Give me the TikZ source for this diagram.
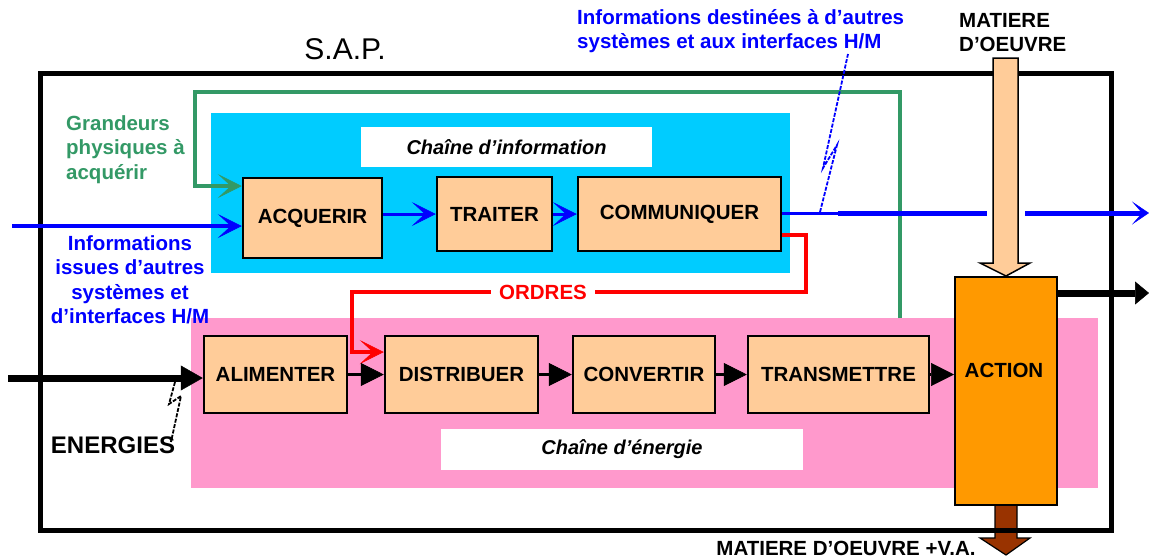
\documentclass[tikz,border=0pt]{standalone}
\usepackage{fontspec}
\setmainfont{Liberation Sans}
\usetikzlibrary{arrows.meta}
\definecolor{infocyan}{HTML}{00CCFF}
\definecolor{energypink}{HTML}{FF99CC}
\definecolor{peach}{HTML}{FFCC99}
\definecolor{actorange}{HTML}{FF9900}
\definecolor{brownva}{HTML}{993300}
\definecolor{gpgreen}{HTML}{339966}
\definecolor{infoblue}{HTML}{0000FF}
\definecolor{ordred}{HTML}{FF0000}
\tikzset{
  InfoTip/.tip={Stealth[length=24pt,width=24pt,inset=13pt,line width=0.5pt]},
  FlowTip/.tip={Triangle[length=23pt,width=23pt,line width=0.5pt]},
  txt/.style={font=\fontsize{20.5}{24.5}\selectfont\bfseries, inner sep=0pt},
  fnbox/.style={draw=black, line width=2.5pt, fill=peach, txt, inner sep=0pt},
  chainlbl/.style={fill=white, font=\fontsize{20}{24}\selectfont\bfseries\itshape, inner sep=0pt},
  infoflow/.style={draw=infoblue, line width=3.5pt},
  energyflow/.style={draw=black, line width=3pt, -FlowTip},
  bolt/.style={dash pattern=on 4pt off 1.5pt, line width=1.8pt},
}
\begin{document}
\begin{tikzpicture}[x=1pt,y=-1pt]
\useasboundingbox (0,0) rectangle (1149,558);

% output product arrow, below the system frame
\filldraw[fill=brownva, draw=black, line width=1.2pt]
  (995,505) -- (1017,505) -- (1017,538) -- (1030,538) -- (1006,555)
  -- (980,538) -- (995,538) -- cycle;

% system frame
\draw[line width=5pt] (40,73) rectangle (1111,530);
\node[font=\fontsize{30}{34}\selectfont, inner sep=0pt] (sap) at (345,49) {S.A.P.};

% the two chains
\fill[energypink] (191,318) rectangle (1098,488);
\fill[infocyan] (211,113) rectangle (790,273);
\node[chainlbl, minimum width=291pt, minimum height=40pt] (infolbl) at (506.5,147) {Chaîne d’information};
\node[chainlbl, minimum width=362pt, minimum height=41pt] (enerlbl) at (622,449.5) {Chaîne d’énergie};

% function boxes
\node[fnbox, minimum width=139pt, minimum height=80pt] (acq)   at (312.5,218) {ACQUERIR};
\node[fnbox, minimum width=115pt, minimum height=74pt] (trait) at (494.5,214) {TRAITER};
\node[fnbox, minimum width=203pt, minimum height=74pt] (comm)  at (679.5,214) {COMMUNIQUER};
\node[fnbox, minimum width=143pt, minimum height=77pt] (alim)  at (275.5,374.5) {ALIMENTER};
\node[fnbox, minimum width=153pt, minimum height=77pt] (dist)  at (461.5,374.5) {DISTRIBUER};
\node[fnbox, minimum width=142pt, minimum height=77pt] (conv)  at (644,374.5) {CONVERTIR};
\node[fnbox, minimum width=181pt, minimum height=77pt] (trans) at (838.5,374.5) {TRANSMETTRE};
\node[draw=black, line width=2pt, fill=actorange, minimum width=102pt, minimum height=228pt, inner sep=0pt] (action) at (1006,391) {};
\node[txt] (actlbl) at (1004,370) {ACTION};

% physical quantities loop
\coordinate (g0) at (900,318);
\coordinate (g1) at (900,92);
\coordinate (g2) at (195,92);
\coordinate (g3) at (195,186);
\draw[draw=gpgreen, line width=3.5pt, -InfoTip] (g0) -- (g1) -- (g2) -- (g3) -- (acq.west |- g3);

% information flow
\coordinate (iin) at (12,226);
\draw[infoflow, -InfoTip] (iin) -- (acq.west |- iin);
\draw[infoflow, line width=3pt, -InfoTip] (acq.east |- trait.west) -- (trait.west);
\draw[infoflow, line width=3pt, -InfoTip] (trait.east) -- (comm.west);
\coordinate (o1) at (838,213);
\coordinate (o2) at (987,213);
\coordinate (o3) at (1025,213);
\coordinate (o4) at (1149,213);
\draw[infoflow, line width=3pt] (comm.east |- o1) -- (o1);
\draw[infoflow, line width=5pt] (o1) -- (o2);
\draw[infoflow, line width=5pt, -{Stealth[length=17pt,width=23pt,inset=10pt,line width=0.5pt]}] (o3) -- (o4);

% wireless symbol towards other systems
\coordinate (b1) at (820,212);
\draw[infoblue, bolt] (b1) -- (837,145) -- (823,168) -- (848,54);

% orders
\coordinate (r1) at (806,235);
\coordinate (r2) at (806,292);
\coordinate (r3) at (352,292);
\coordinate (r4) at (352,352);
\draw[draw=ordred, line width=3.5pt, -InfoTip] (comm.east |- r1) -- (r1) -- (r2) -- (r3) -- (r4) -- (dist.west |- r4);
\node[txt, text=ordred, fill=white, inner xsep=8pt, inner ysep=3pt] (ordres) at (543,292) {ORDRES};

% energy flow
\coordinate (ein) at (8,378);
\draw[line width=7pt, -{Triangle[length=22pt,width=25pt,line width=0.5pt]}] (ein) -- (alim.west |- ein);
\draw[energyflow] (alim.east) -- (dist.west);
\draw[energyflow] (dist.east) -- (conv.west);
\draw[energyflow] (conv.east) -- (trans.west);
\draw[energyflow] (trans.east) -- (trans.east -| action.west);
\coordinate (b2) at (175,382);
\draw[black, bolt] (b2) -- (169,404) -- (181,396) -- (171,442);

% output of the action
\coordinate (aout) at (1149,293);
\draw[line width=7pt, -{Triangle[length=14pt,width=23pt,line width=0.5pt]}] (action.east |- aout) -- (aout);

% incoming work material
\filldraw[fill=peach, draw=black, line width=1.5pt]
  (993,58) -- (1018,58) -- (1018,263) -- (1030,263) -- (action.north)
  -- (980,263) -- (993,263) -- cycle;

% labels
\node[txt, text=infoblue, align=left, anchor=north west] (infoout) at (577,9)
  {Informations destinées à d’autres\\systèmes et aux interfaces H/M};
\node[txt, align=left, anchor=north west] (mo) at (959,13) {MATIERE\\D'OEUVRE};
\node[txt, text=gpgreen, align=left, anchor=north west] (gp) at (66,115)
  {Grandeurs\\physiques à\\acquérir};
\node[txt, text=infoblue, align=center, anchor=north] (infoin) at (130,235)
  {Informations\\issues d’autres\\systèmes et\\d’interfaces H/M};
\node[txt, font=\fontsize{24}{28}\selectfont\bfseries] (energies) at (113,445) {ENERGIES};
\node[txt] (mova) at (846,548) {MATIERE D'OEUVRE +V.A.};
\end{tikzpicture}
\end{document}
